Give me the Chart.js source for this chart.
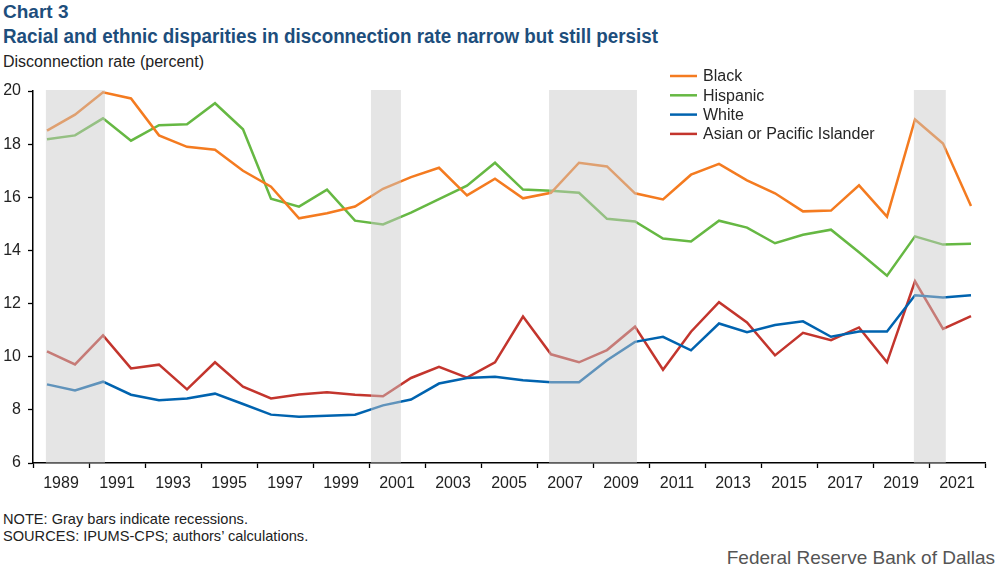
<!DOCTYPE html>
<html>
<head>
<meta charset="utf-8">
<script src="https://cdn.jsdelivr.net/npm/chart.js@4.4.1/dist/chart.umd.min.js"></script>
<style>
  html, body { margin:0; padding:0; background:#fff; }
  body { width:997px; height:565px; position:relative; overflow:hidden; }
  .t { position:absolute; left:3px; white-space:nowrap; font-family:"Liberation Sans",Arial,sans-serif; transform-origin:left top; }
  #c1 { top:1px; font-size:19px; font-weight:bold; color:#1d4e7c; line-height:21px; }
  #c2 { top:25px; font-size:20px; font-weight:bold; color:#1d4e7c; line-height:22px; transform:scaleX(0.94); }
  #c3 { top:53px; font-size:16px; color:#222; line-height:18px; }
  #n1 { top:511px; font-size:14.6px; color:#222; line-height:16px; }
  #n2 { top:528px; font-size:14.6px; color:#222; line-height:16px; }
  #fr { position:absolute; right:2px; top:547px; font-family:"Liberation Sans",Arial,sans-serif; font-size:19px; color:#555; white-space:nowrap; line-height:21px; }
  #wrap { position:absolute; left:0; top:0; width:997px; height:565px; }
</style>
</head>
<body>
<div class="t" id="c1">Chart 3</div>
<div class="t" id="c2">Racial and ethnic disparities in disconnection rate narrow but still persist</div>
<div class="t" id="c3">Disconnection rate (percent)</div>
<div class="t" id="n1">NOTE: Gray bars indicate recessions.</div>
<div class="t" id="n2">SOURCES: IPUMS-CPS; authors’ calculations.</div>
<div id="fr">Federal Reserve Bank of Dallas</div>
<div id="wrap"><canvas id="chart" width="997" height="565"></canvas></div>
<script>
// ---- data ----
const years = [1989,1990,1991,1992,1993,1994,1995,1996,1997,1998,1999,2000,2001,2002,2003,2004,2005,2006,2007,2008,2009,2010,2011,2012,2013,2014,2015,2016,2017,2018,2019,2020,2021,2022];
const black = [18.51,19.11,19.95,19.72,18.33,17.90,17.79,17.00,16.40,15.21,15.40,15.65,16.32,16.76,17.11,16.07,16.70,15.96,16.17,17.30,17.16,16.15,15.92,16.85,17.26,16.64,16.15,15.47,15.50,16.45,15.27,18.93,18.02,15.67];
const hispanic = [18.18,18.33,18.97,18.13,18.71,18.75,19.54,18.56,15.95,15.65,16.29,15.12,14.98,15.42,15.93,16.44,17.30,16.29,16.25,16.17,15.19,15.09,14.45,14.34,15.12,14.86,14.27,14.59,14.78,13.93,13.05,14.53,14.22,14.25];
const white = [8.96,8.73,9.06,8.57,8.36,8.43,8.61,8.22,7.82,7.74,7.78,7.82,8.17,8.39,8.99,9.20,9.25,9.11,9.04,9.04,9.87,10.56,10.75,10.24,11.25,10.92,11.19,11.33,10.75,10.95,10.95,12.31,12.23,12.31];
const asian = [10.20,9.71,10.80,9.56,9.70,8.77,9.79,8.87,8.43,8.58,8.66,8.57,8.51,9.20,9.62,9.21,9.79,11.51,10.09,9.79,10.25,11.13,9.51,10.94,12.05,11.29,10.05,10.90,10.62,11.10,9.79,12.84,11.05,11.53];
const seriesNames = ["Black","Hispanic","White","Asian or Pacific Islander"];
const xTickYears = [1989,1991,1993,1995,1997,1999,2001,2003,2005,2007,2009,2011,2013,2015,2017,2019,2021];
const yTicks = [6,8,10,12,14,16,18,20];
// recession periods, in axis (year) units
const recessions = [[1988.46,1990.57],[2000.07,2001.14],[2006.43,2009.57],[2019.46,2020.60]];

const colors = ["#f47b20","#66b843","#0063af","#c3352d"];
// point for year Y sits in the middle of the slot that precedes label Y
const pts = arr => arr.map((v,i) => ({x: years[i] - 0.5, y: v}));

const recessionPlugin = {
  id: 'recessions',
  afterDatasetsDraw(chart) {
    const {ctx, chartArea, scales} = chart;
    ctx.save();
    ctx.fillStyle = 'rgba(200,200,200,0.48)';
    recessions.forEach(([a,b]) => {
      const x0 = scales.x.getPixelForValue(a), x1 = scales.x.getPixelForValue(b);
      ctx.fillRect(x0, chartArea.top - 1, x1 - x0, chartArea.bottom - chartArea.top + 1);
    });
    ctx.restore();
  }
};

const legendPlugin = {
  id: 'customLegend',
  afterDraw(chart) {
    const {ctx} = chart;
    ctx.save();
    ctx.font = '16px "Liberation Sans", Arial, sans-serif';
    ctx.textBaseline = 'middle';
    chart.data.datasets.forEach((ds, i) => {
      const y = 76 + i * 19.3;
      ctx.strokeStyle = ds.borderColor;
      ctx.lineWidth = 2.5;
      ctx.beginPath(); ctx.moveTo(670, y); ctx.lineTo(697, y); ctx.stroke();
      ctx.fillStyle = '#262626';
      ctx.fillText(ds.label, 703, y + 1);
    });
    ctx.restore();
  }
};

const datasets = [black, hispanic, white, asian].map((arr, i) => ({
  label: seriesNames[i],
  data: pts(arr),
  borderColor: colors[i],
  backgroundColor: colors[i],
  borderWidth: 2.5,
  pointRadius: 0,
  tension: 0,
  fill: false
}));

new Chart(document.getElementById('chart'), {
  type: 'line',
  data: { datasets },
  plugins: [recessionPlugin, legendPlugin],
  options: {
    responsive: false,
    animation: false,
    layout: { padding: { left: 0, right: 12, top: 91, bottom: 0 } },
    plugins: { legend: { display: false }, tooltip: { enabled: false } },
    scales: {
      x: {
        type: 'linear',
        min: 1988, max: 2022,
        afterBuildTicks(axis) {
          const t = [];
          for (let v = 1988; v <= 2022; v++) t.push({value: v});
          axis.ticks = t;
        },
        afterFit(axis) { axis.height = 102; },
        ticks: {
          autoSkip: false, maxRotation: 0, minRotation: 0,
          padding: 6,
          color: '#222',
          font: { family: '"Liberation Sans", Arial, sans-serif', size: 16 },
          callback: (v) => xTickYears.includes(v) ? String(v) : ''
        },
        grid: {
          drawOnChartArea: false,
          tickLength: 5,
          tickWidth: 1.3,
          tickColor: (ctx) => (ctx.tick && ctx.tick.value % 2 === 0) ? '#000' : 'rgba(0,0,0,0)'
        },
        border: { display: true, color: '#000', width: 1.5 }
      },
      y: {
        min: 6, max: 20,
        afterBuildTicks(axis) { axis.ticks = yTicks.map(v => ({value: v})); },
        afterFit(axis) { axis.width = 33; },
        ticks: {
          padding: 7,
          color: '#222',
          font: { family: '"Liberation Sans", Arial, sans-serif', size: 16 }
        },
        grid: { drawOnChartArea: false, tickLength: 5, tickWidth: 1.3, color: '#000' },
        border: { display: true, color: '#000', width: 1.5 }
      }
    }
  }
});
</script>
</body>
</html>
